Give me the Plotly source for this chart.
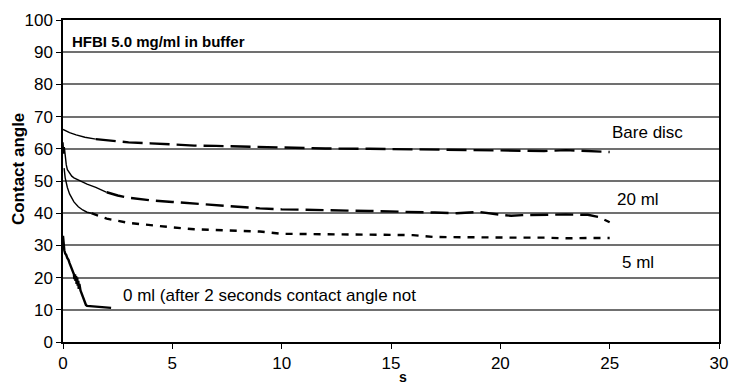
import plotly.graph_objects as go

# ---- data ----
bare_t_solid = [0, 0.1, 0.3, 0.6, 1.0, 1.5]
bare_v_solid = [66, 65.6, 65.0, 64.3, 63.6, 63.0]
bare_t = [1.5, 2, 3, 4, 5, 6, 7, 8, 9, 10, 12, 14, 16, 18, 20, 21, 22, 23, 24, 25]
bare_v = [63.0, 62.6, 62.0, 61.7, 61.3, 61.0, 60.9, 60.7, 60.5, 60.3, 60.1, 60.0, 59.9, 59.7, 59.5, 59.4, 59.3, 59.6, 59.2, 59.0]

ml20_t_solid = [0, 0.03, 0.06, 0.1, 0.15, 0.2, 0.3, 0.4, 0.5, 0.7, 0.9, 1.1, 1.5, 2.0]
ml20_v_solid = [62, 58.5, 60.5, 57, 55, 53.5, 52.5, 51.5, 51, 50.3, 49.8, 49, 48, 46.5]
ml20_t = [2.0, 2.5, 3, 4, 5, 6, 7, 8, 9, 10, 11, 12, 13, 14, 15, 16, 17, 18, 19, 20, 20.5, 21, 22, 23, 24, 24.5, 25]
ml20_v = [46.5, 45.5, 44.8, 44.0, 43.5, 43.0, 42.5, 41.8, 41.5, 41.2, 41.0, 40.8, 40.8, 40.7, 40.6, 40.4, 40.2, 40.0, 40.4, 39.5, 39.2, 39.4, 39.6, 39.6, 39.5, 38.8, 37.2]

ml5_t_solid = [0.05, 0.1, 0.2, 0.3, 0.5, 0.7, 0.9, 1.1, 1.3]
ml5_v_solid = [54, 51, 48, 46, 43.5, 42, 41, 40.3, 40]
ml5_t = [1.3, 2, 3, 4, 5, 6, 7, 8, 9, 10, 11, 12, 13, 14, 15, 16, 17, 18, 19, 20, 21, 22, 23, 24, 25]
ml5_v = [40.0, 38.3, 37.0, 36.2, 35.6, 35.0, 34.8, 34.5, 34.3, 33.6, 33.5, 33.5, 33.4, 33.4, 33.3, 33.2, 32.6, 32.5, 32.4, 32.4, 32.4, 32.4, 32.2, 32.3, 32.3]

ml0_t = [0, 0.03, 0.06, 0.1, 0.15, 0.2, 0.25, 0.3, 0.35, 0.4, 0.45, 0.5, 0.52, 0.55, 0.57, 0.6, 0.62,
         0.65, 0.67, 0.7, 0.72, 0.75, 0.8, 0.85, 0.9, 0.95, 1.0, 1.05, 1.1, 1.3, 1.6, 1.9, 2.2]
ml0_v = [33, 30, 28.5, 27.5, 27, 26, 25.5, 24.5, 23.5, 23, 21.5, 21, 19.5, 21, 19, 20.5, 18,
         20, 17.5, 19, 16.5, 18, 16, 15, 14.5, 13, 12, 11.5, 11.2, 11.1, 11.0, 10.8, 10.6]

labels = ["Bare disc", "20 ml", "5 ml", "0 ml (after 2 seconds contact angle not"]
label_x = [25.0, 26.3, 26.3, 2.65]
label_y = [65.2, 44.2, 24.8, 14.5]
label_anchor = ["left", "center", "center", "left"]

chart_title = "HFBI 5.0 mg/ml in buffer"
x_ticks = [0, 5, 10, 15, 20, 25, 30]
y_ticks = [0, 10, 20, 30, 40, 50, 60, 70, 80, 90, 100]

FONT = "Liberation Sans, Arial, sans-serif"

fig = go.Figure()

def add(t, v, width, dash):
    fig.add_trace(go.Scatter(x=t, y=v, mode="lines", showlegend=False,
                             line=dict(color="black", width=width, dash=dash)))

add(bare_t_solid, bare_v_solid, 1.4, "solid")
add(bare_t, bare_v, 2.4, "20px,7px")
add(ml20_t_solid, ml20_v_solid, 1.4, "solid")
add(ml20_t, ml20_v, 2.4, "18px,7px")
add(ml5_t_solid, ml5_v_solid, 1.4, "solid")
add(ml5_t, ml5_v, 2.4, "7px,7px")
add(ml0_t, ml0_v, 2.4, "solid")

for txt, lx, ly, anc in zip(labels, label_x, label_y, label_anchor):
    fig.add_annotation(x=lx, y=ly, xref="x", yref="y", text=txt, showarrow=False,
                       xanchor=anc, yanchor="middle",
                       font=dict(family=FONT, size=17, color="black"))

fig.add_annotation(x=0.3, y=93.2, xref="x", yref="y", text="<b>" + chart_title + "</b>",
                   showarrow=False, xanchor="left", yanchor="middle",
                   font=dict(family=FONT, size=15, color="black"))

fig.add_annotation(x=-45/664, y=(342 - 169) / 323, xref="paper", yref="paper",
                   text="<b>Contact angle</b>", textangle=-90, showarrow=False,
                   xanchor="center", yanchor="middle",
                   font=dict(family=FONT, size=17, color="black"))
fig.add_annotation(x=15.55, y=-44 / 323, xref="x", yref="paper",
                   text="<b>s</b>", showarrow=False,
                   xanchor="center", yanchor="bottom", borderpad=0,
                   font=dict(family=FONT, size=14, color="black"))

fig.update_layout(
    width=739, height=386,
    margin=dict(l=63, r=11, t=19, b=44),
    paper_bgcolor="white", plot_bgcolor="white",
    font=dict(family=FONT, size=17, color="black"),
    xaxis=dict(range=[0, 30], tickvals=x_ticks, showgrid=False, zeroline=False,
               showline=True, linecolor="black", linewidth=1.5, mirror=True,
               ticks="outside", ticklen=5, tickcolor="black", tickwidth=1,
               tickfont=dict(size=17)),
    yaxis=dict(range=[0, 100], tickvals=y_ticks, showgrid=True, gridcolor="#707070",
               gridwidth=1.6, zeroline=False,
               showline=True, linecolor="black", linewidth=1.5, mirror=True,
               ticks="outside", ticklen=5, tickcolor="black", tickwidth=1,
               tickfont=dict(size=17)),
)

fig.write_html("out.html")
